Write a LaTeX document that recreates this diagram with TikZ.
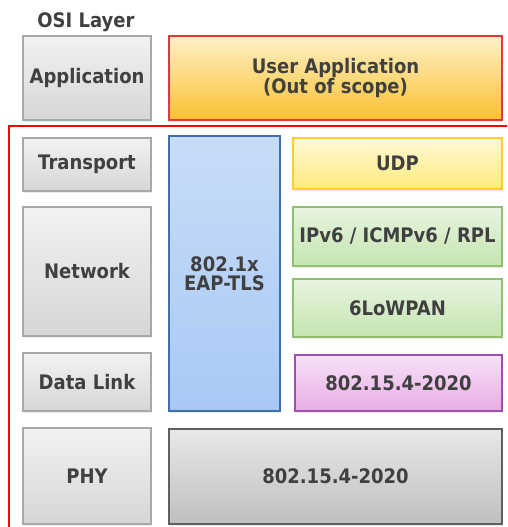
\documentclass[tikz,border=0pt]{standalone}
\usepackage{fontspec}
\setmainfont{DejaVu Sans}[FakeStretch=0.9]
\usepackage{tikz}
\usetikzlibrary{shadows}

\definecolor{txtgray}{HTML}{404040}
\definecolor{grayline}{HTML}{A8A8A8}
\definecolor{graytop}{HTML}{F2F2F2}
\definecolor{graybot}{HTML}{D6D6D6}
\definecolor{userline}{HTML}{E03A3A}
\definecolor{usertop}{HTML}{FDF0C8}
\definecolor{userbot}{HTML}{FBC12E}
\definecolor{eapline}{HTML}{3F6FB0}
\definecolor{eaptop}{HTML}{C8DCF8}
\definecolor{eapbot}{HTML}{A8C9F5}
\definecolor{udpline}{HTML}{FFCC33}
\definecolor{udptop}{HTML}{FFF8D8}
\definecolor{udpbot}{HTML}{FFEC7A}
\definecolor{netline}{HTML}{8FBF6F}
\definecolor{nettop}{HTML}{E8F4E0}
\definecolor{netbot}{HTML}{C4E5B0}
\definecolor{macline}{HTML}{A24FB4}
\definecolor{mactop}{HTML}{F7E2F6}
\definecolor{macbot}{HTML}{E8ACE6}
\definecolor{phyline}{HTML}{606060}
\definecolor{phytop}{HTML}{E8E8E8}
\definecolor{phybot}{HTML}{BFBFBF}

\tikzset{
  layer/.style={draw=grayline, line width=1.2pt, rectangle, inner sep=0pt,
    top color=graytop, bottom color=graybot, text=txtgray,
    font=\fontsize{20}{19}\selectfont\bfseries, align=center,
    drop shadow={opacity=0.15, shadow xshift=1pt, shadow yshift=-1.5pt}},
  userbox/.style={layer, draw=userline, top color=usertop, bottom color=userbot},
  eapbox/.style={layer, draw=eapline, top color=eaptop, bottom color=eapbot},
  udpbox/.style={layer, draw=udpline, top color=udptop, bottom color=udpbot},
  netbox/.style={layer, draw=netline, top color=nettop, bottom color=netbot},
  macbox/.style={layer, draw=macline, top color=mactop, bottom color=macbot},
  phybox/.style={layer, draw=phyline, top color=phytop, bottom color=phybot}
}

\begin{document}
\begin{tikzpicture}[x=1pt, y=-1pt]
        \clip (0,0) rectangle (507,527);

        % Title
        \node[text=txtgray, font=\fontsize{20}{21}\selectfont\bfseries] (osi) at (86,22) {OSI Layer};

        % OSI layers
        \node[layer, minimum width=128, minimum height=84] (app) at (87,78) {Application};
        \node[layer, minimum width=128, minimum height=53] (trans) at (87,164.5) {Transport};
        \node[layer, minimum width=128, minimum height=129] (net) at (87,271.5) {Network};
        \node[layer, minimum width=128, minimum height=58] (link) at (87,382) {Data Link};
        \node[layer, minimum width=128, minimum height=96] (phy) at (87,476) {PHY};

        % Stack
        \node[userbox, minimum width=333, minimum height=84] (user) at (335.5,78) {User Application\\(Out of scope)};
        \node[eapbox, minimum width=111, minimum height=275] (eap) at (224.5,273.5) {802.1x\\EAP-TLS};
        \node[udpbox, minimum width=209, minimum height=51] (udp) at (397.5,163.5) {UDP};
        \node[netbox, minimum width=209, minimum height=59] (ipv6) at (397.5,236.5) {IPv6 / ICMPv6 / RPL};
        \node[netbox, minimum width=209, minimum height=58] (lowpan) at (397.5,308) {6LoWPAN};
        \node[macbox, minimum width=207, minimum height=56] (mac) at (398.5,383) {802.15.4-2020};
        \node[phybox, minimum width=333, minimum height=95] (radio) at (335.5,476.5) {802.15.4-2020};

        % Scope frame
        \draw[red, line width=2.4pt] (9,126) rectangle (530,560);
    \end{tikzpicture}
\end{document}
